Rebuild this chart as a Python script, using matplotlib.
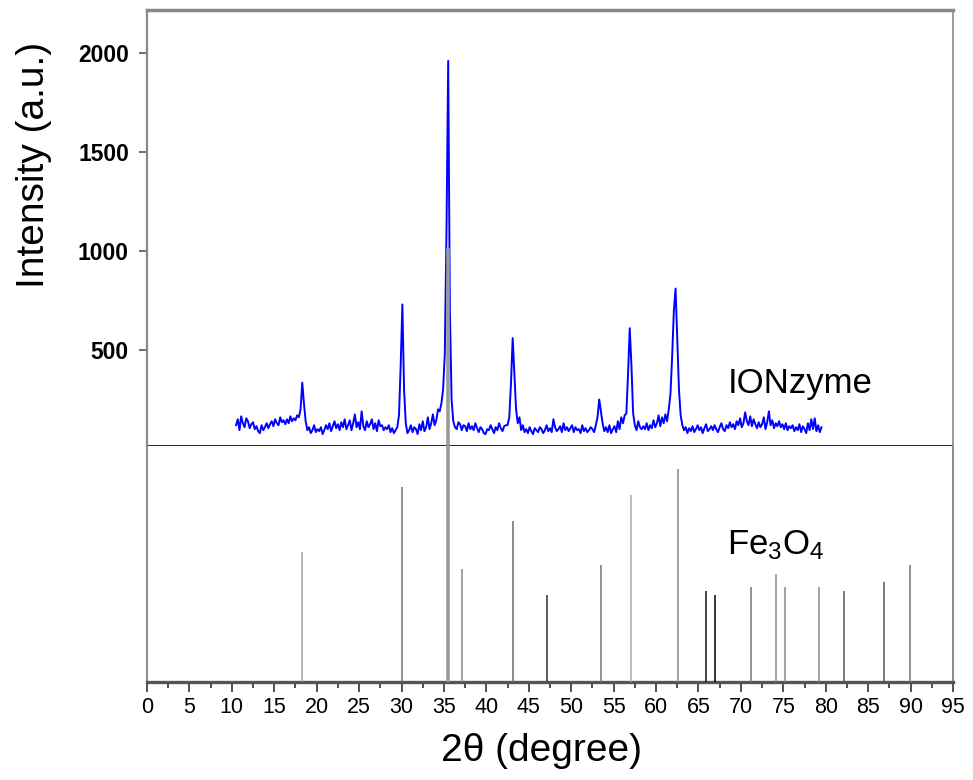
"""XRD: patrón IONzyme (arriba) frente a las líneas de referencia de Fe3O4 (abajo)."""

import matplotlib

matplotlib.use("Agg")
import matplotlib.pyplot as plt
import numpy as np

# ---- Patrón medido (IONzyme), muestreado cada 0.2° desde 10.5° hasta 79.5° ---- #
SCAN_START, SCAN_STOP, SCAN_STEP = 10.5, 79.5, 0.2
IONZYME_COUNTS = [
    120, 150, 95, 165, 130, 110, 155, 140, 105, 125,      # 10.5
    135, 100, 115, 90, 80, 120, 95, 110, 130, 105,        # 12.5
    125, 140, 115, 150, 130, 120, 160, 135, 145, 125,     # 14.5
    150, 130, 165, 140, 155, 145, 170, 160, 200, 335,     # 16.5
    230, 140, 95, 110, 80, 95, 120, 85, 100, 90,          # 18.5
    110, 75, 95, 120, 100, 130, 90, 115, 140, 105,        # 20.5
    125, 95, 135, 110, 150, 100, 120, 145, 95, 130,       # 22.5
    175, 110, 135, 100, 190, 115, 95, 140, 110, 125,      # 24.5
    150, 100, 130, 90, 145, 115, 120, 95, 110, 100,       # 26.5
    120, 85, 105, 80, 95, 110, 170, 420, 730, 300,        # 28.5
    130, 80, 95, 120, 85, 110, 100, 75, 125, 95,          # 30.5
    140, 90, 110, 160, 100, 130, 175, 120, 145, 200,      # 32.5
    190, 230, 300, 480, 1100, 1960, 700, 250, 140, 110,   # 34.5
    100, 135, 125, 95, 120, 115, 90, 130, 100, 115,       # 36.5
    95, 130, 105, 85, 110, 100, 80, 75, 100, 95,          # 38.5
    120, 100, 80, 110, 95, 130, 105, 90, 115, 120,        # 40.5
    120, 160, 330, 560, 380, 200, 130, 160, 95, 120,      # 42.5
    85, 100, 80, 110, 90, 75, 105, 95, 85, 110,           # 44.5
    100, 80, 95, 120, 90, 105, 85, 150, 110, 90,          # 46.5
    100, 115, 85, 130, 95, 110, 90, 105, 120, 85,         # 48.5
    110, 95, 100, 80, 120, 90, 105, 85, 95, 110,          # 50.5
    100, 85, 120, 160, 250, 190, 130, 90, 110, 85,        # 52.5
    120, 80, 100, 115, 85, 140, 100, 160, 130, 170,       # 54.5
    180, 380, 610, 420, 180, 120, 95, 140, 110, 100,      # 56.5
    115, 100, 130, 95, 120, 105, 145, 110, 130, 170,      # 58.5
    115, 160, 130, 175, 140, 200, 280, 470, 700, 810,     # 60.5
    560, 300, 170, 120, 95, 110, 80, 105, 90, 115,        # 62.5
    85, 100, 120, 95, 110, 80, 105, 125, 90, 100,         # 64.5
    115, 95, 120, 100, 85, 110, 130, 100, 90, 120,        # 66.5
    105, 135, 110, 125, 100, 140, 120, 155, 110, 130,     # 68.5
    185, 140, 120, 165, 115, 150, 125, 105, 135, 110,     # 70.5
    125, 160, 100, 135, 190, 120, 145, 105, 130, 115,     # 72.5
    140, 110, 125, 100, 130, 95, 115, 105, 120, 90,       # 74.5
    110, 95, 125, 85, 115, 100, 80, 130, 95, 150,         # 76.5
    100, 155, 90, 120, 85, 110,                           # 78.5
]

# ---- Referencia Fe3O4: posición (2θ) e intensidad relativa (%) ---- #
REF_2THETA = [18.3, 30.1, 35.5, 37.1, 43.1, 47.2, 53.5, 57.0, 62.6,
              65.9, 66.9, 71.2, 74.1, 75.2, 79.2, 82.1, 86.9, 89.9]
REF_INTENSITY = [30, 45, 100, 26, 37, 20, 27, 43, 49,
                 21, 20, 22, 25, 22, 22, 21, 23, 27]

Y_TICKS = [500, 1000, 1500, 2000]
X_TICKS = list(range(0, 96, 5))


def main() -> None:
    plt.rcParams["font.family"] = ["Liberation Sans", "DejaVu Sans"]
    plt.rcParams["mathtext.default"] = "regular"

    two_theta = np.arange(SCAN_START, SCAN_STOP + SCAN_STEP / 2, SCAN_STEP)
    counts = np.array(IONZYME_COUNTS, dtype=float)

    fig = plt.figure(figsize=(9.73, 7.8), dpi=100)
    left, width = 147 / 973, 806 / 973
    ax_top = fig.add_axes([left, 1 - 446 / 780, width, 436 / 780])
    ax_bot = fig.add_axes([left, 1 - 682 / 780, width, 236 / 780])

    # ---- Panel superior: patrón medido ---- #
    ax_top.plot(two_theta, counts, color="#0000ff", lw=1.4)
    ax_top.set_xlim(0, 95)
    ax_top.set_ylim(15, 2217)
    ax_top.set_xticks([])
    ax_top.set_yticks(Y_TICKS)
    ax_top.set_yticklabels([str(v) for v in Y_TICKS], fontweight="bold", fontsize=16.5)
    ax_top.tick_params(axis="y", direction="out", length=6, width=1.2,
                       color="#555555", pad=7)
    for side in ("left", "top", "right"):
        ax_top.spines[side].set_color("#8a8a8a")
    ax_top.spines["top"].set_linewidth(2.5)
    ax_top.spines["left"].set_linewidth(1.6)
    ax_top.spines["right"].set_linewidth(1.2)
    ax_top.spines["bottom"].set_color("black")
    ax_top.spines["bottom"].set_linewidth(1.2)
    ax_top.set_ylabel("Intensity (a.u.)", fontsize=28)
    ax_top.yaxis.set_label_coords(-0.118, 0.644)
    ax_top.text(68.4, 330, "IONzyme", fontsize=25, va="center", ha="left",
                bbox=dict(facecolor="white", edgecolor="none", pad=6))

    # ---- Panel inferior: líneas de referencia ---- #
    shades = ["#a0a0a0", "#707070", "#9a9a9a", "#888888", "#6a6a6a", "#303030",
              "#777777", "#aaaaaa", "#888888", "#111111", "#000000", "#777777",
              "#888888", "#888888", "#888888", "#555555", "#555555", "#777777"]
    for x, h, c in zip(REF_2THETA, REF_INTENSITY, shades):
        lw = 2.6 if h == max(REF_INTENSITY) else 1.1
        ax_bot.vlines(x, 0, h, color=c, lw=lw, clip_on=False, zorder=5)
    ax_bot.set_xlim(0, 95)
    ax_bot.set_ylim(0, 54.4)
    ax_bot.set_yticks([])
    ax_bot.set_xticks(X_TICKS)
    ax_bot.set_xticks(np.arange(2.5, 95, 5), minor=True)
    ax_bot.set_xticklabels([str(v) for v in X_TICKS], fontsize=15.5)
    ax_bot.tick_params(axis="x", which="major", direction="out", length=7,
                       width=1.2, color="#333333", pad=4)
    ax_bot.tick_params(axis="x", which="minor", direction="out", length=4,
                       width=1.2, color="#333333")
    ax_bot.spines["top"].set_visible(False)
    for side in ("left", "right"):
        ax_bot.spines[side].set_color("#8a8a8a")
        ax_bot.spines[side].set_linewidth(1.4)
    ax_bot.spines["bottom"].set_color("#555555")
    ax_bot.spines["bottom"].set_linewidth(2.4)
    ax_bot.set_xlabel("2θ (degree)", fontsize=28)
    ax_bot.xaxis.set_label_coords(0.49, -0.215)
    ax_bot.text(68.4, 31.6, "Fe$_3$O$_4$", fontsize=25, va="center", ha="left")

    fig.savefig("out.png", dpi=100)


if __name__ == "__main__":
    main()
